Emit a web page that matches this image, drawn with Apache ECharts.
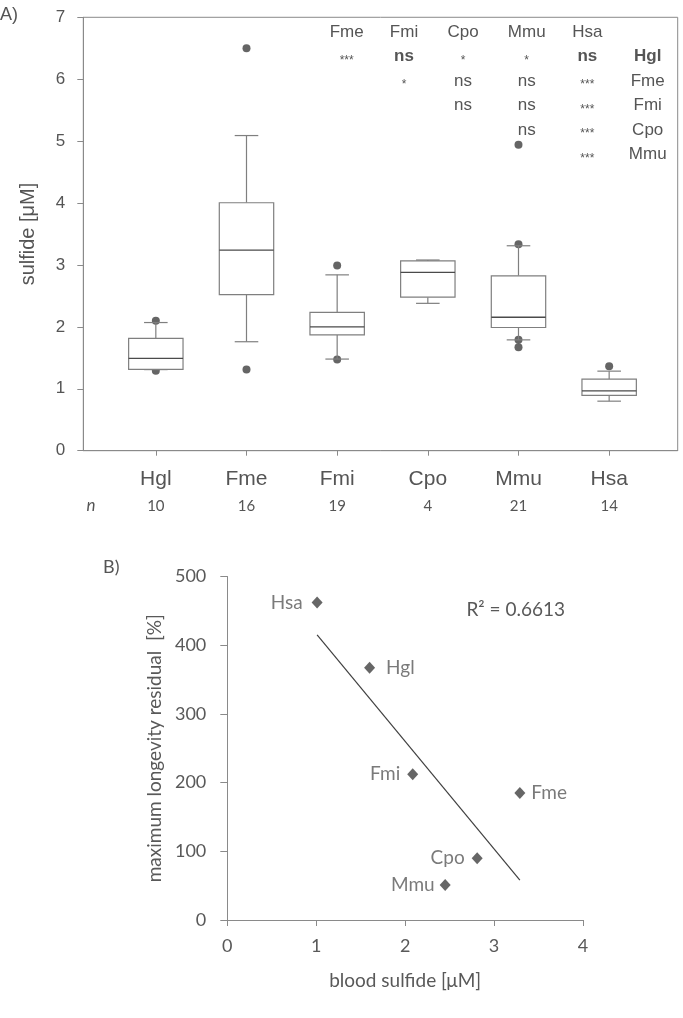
<!DOCTYPE html>
<html><head><meta charset="utf-8">
<script src="https://cdn.jsdelivr.net/npm/echarts@6/dist/echarts.min.js"></script>
<style>html,body{margin:0;padding:0;background:#fff}#c{width:683px;height:1018px}</style>
</head><body><div id="c"></div>
<script>
// ---------- Panel A data ----------
const categories = ['Hgl', 'Fme', 'Fmi', 'Cpo', 'Mmu', 'Hsa'];
const nValues = [10, 16, 19, 4, 21, 14];
const whiskerLow = [1.31, 1.76, 1.48, 2.38, 1.79, 0.80];
const quartile1 = [1.315, 2.52, 1.87, 2.48, 1.99, 0.895];
const medians = [1.49, 3.24, 2.00, 2.88, 2.155, 0.965];
const quartile3 = [1.815, 4.005, 2.235, 3.065, 2.825, 1.155];
const whiskerHigh = [2.07, 5.09, 2.84, 3.08, 3.31, 1.285];
const outlierGroup = ['Hgl', 'Hgl', 'Fme', 'Fme', 'Fmi', 'Fmi', 'Mmu', 'Mmu', 'Mmu', 'Mmu', 'Hsa'];
const outlierValues = [2.10, 1.29, 6.50, 1.31, 2.99, 1.475, 4.94, 3.335, 1.79, 1.67, 1.363];
const yTicksA = [0, 1, 2, 3, 4, 5, 6, 7];

// significance table
const sigColumns = ['Fme', 'Fmi', 'Cpo', 'Mmu', 'Hsa'];
const sigRowLabels = ['Hgl', 'Fme', 'Fmi', 'Cpo', 'Mmu'];
const sigMatrix = [
  ['***', 'ns', '*', '*', 'ns'],
  ['', '*', 'ns', 'ns', '***'],
  ['', '', 'ns', 'ns', '***'],
  ['', '', '', 'ns', '***'],
  ['', '', '', '', '***']
];

// ---------- Panel B data ----------
const speciesB = ['Hsa', 'Hgl', 'Fmi', 'Fme', 'Cpo', 'Mmu'];
const bloodSulfide = [1.01, 1.60, 2.085, 3.29, 2.81, 2.45];
const longevityResidual = [462, 367, 212, 185, 90, 51];
const trendSulfide = [1.01, 3.29];
const trendResidual = [415, 58];
const r2Label = 'R² = 0.6613';
const xTicksB = [0, 1, 2, 3, 4];
const yTicksB = [0, 100, 200, 300, 400, 500];

// ---------- layout / style ----------
const FA = 'Liberation Sans, Arial, sans-serif';
const FB = 'Lato, Calibri, sans-serif';
const axisGray = '#8a8a8a';
const textGray = '#555555';
const darkGray = '#404040';

const chart = echarts.init(document.getElementById('c'), null, {renderer: 'canvas'});

const catPos = categories.map((c, i) => i + 1);

// table graphic
const colX = [346.7, 404, 463, 526.7, 587.3];
const labelX = 647.7;
const headerY = 32.3;
const rowY = [56.7, 81, 105.7, 130, 154.3];
const graphics = [];
function txt(text, x, y, opts) {
  graphics.push({
    type: 'text', x: x, y: y, silent: true,
    style: Object.assign({
      text: text, fill: textGray, fontFamily: FA, fontSize: 17,
      align: 'center', verticalAlign: 'middle', textAlign: 'center', textVerticalAlign: 'middle'
    }, opts || {})
  });
}
sigColumns.forEach((c, j) => txt(c, colX[j], headerY));
sigRowLabels.forEach((r, i) => {
  txt(r, labelX, rowY[i], i === 0 ? {fontWeight: 'bold'} : {});
  sigMatrix[i].forEach((s, j) => {
    if (!s) return;
    if (s.indexOf('*') >= 0) {
      txt(s, colX[j], rowY[i] + 4, {fontSize: 12});
    } else {
      txt(s, colX[j], rowY[i], i === 0 ? {fontWeight: 'bold'} : {});
    }
  });
});
txt('A)', 0, 15.5, {align: 'left', textAlign: 'left', fontSize: 18});
txt('n', 91, 506, {fontStyle: 'italic', fontSize: 17, fontFamily: FB});
txt('B)', 103, 567, {align: 'left', textAlign: 'left', fontSize: 18, fontFamily: FB});
txt(r2Label, 515.7, 610, {fontSize: 19, fontFamily: FB, fill: '#595959'});

const labelCfg = {
  Hsa: {position: 'left', distance: 9},
  Hgl: {position: 'right', distance: 11},
  Fmi: {position: 'left', distance: 7},
  Fme: {position: 'right', distance: 6},
  Cpo: {position: 'left', distance: 7},
  Mmu: {position: 'left', distance: 5}
};

const option = {
  animation: false,
  backgroundColor: '#fff',
  graphic: graphics,
  grid: [
    {left: 83.3, top: 17.3, width: 594.4, height: 433.4, show: true, borderColor: axisGray, borderWidth: 1, containLabel: false},
    {left: 227.3, top: 576.5, width: 355.7, height: 343.5, containLabel: false}
  ],
  xAxis: [
    {
      gridIndex: 0, type: 'value', min: 0.2, max: 6.756,
      splitLine: {show: false},
      axisLine: {show: true, lineStyle: {color: axisGray, width: 1}},
      axisTick: {show: true, length: 5, customValues: catPos, lineStyle: {color: axisGray}},
      axisLabel: {
        customValues: catPos, margin: 16,
        formatter: v => '{c|' + categories[Math.round(v) - 1] + '}\n{n|' + nValues[Math.round(v) - 1] + '}',
        rich: {
          c: {fontFamily: FA, fontSize: 21, color: textGray, lineHeight: 26},
          n: {fontFamily: FB, fontSize: 15, color: textGray, lineHeight: 26}
        }
      }
    },
    {
      gridIndex: 1, type: 'value', min: 0, max: 4, interval: 1,
      splitLine: {show: false},
      axisLine: {show: true, onZero: false, lineStyle: {color: axisGray}},
      axisTick: {show: true, length: 6, lineStyle: {color: axisGray}},
      axisLabel: {fontFamily: FB, fontSize: 18, color: '#595959', margin: 17},
      name: 'blood sulfide [μM]', nameLocation: 'middle', nameGap: 51,
      nameTextStyle: {fontFamily: FB, fontSize: 19, color: '#595959'}
    }
  ],
  yAxis: [
    {
      gridIndex: 0, type: 'value', min: 0, max: 7, interval: 1,
      splitLine: {show: false},
      axisLine: {show: true, lineStyle: {color: axisGray}},
      axisTick: {show: true, length: 6, lineStyle: {color: axisGray}},
      axisLabel: {fontFamily: FA, fontSize: 17, color: textGray, margin: 18},
      name: 'sulfide [μM]', nameLocation: 'middle', nameGap: 45,
      nameTextStyle: {fontFamily: FA, fontSize: 20, color: textGray}
    },
    {
      gridIndex: 1, type: 'value', min: 0, max: 500, interval: 100,
      splitLine: {show: false},
      axisLine: {show: true, onZero: false, lineStyle: {color: axisGray}},
      axisTick: {show: true, length: 7, lineStyle: {color: axisGray}},
      axisLabel: {fontFamily: FB, fontSize: 18, color: '#595959', margin: 21},
      name: 'maximum longevity residual  [%]', nameLocation: 'middle', nameGap: 60,
      nameTextStyle: {fontFamily: FB, fontSize: 19, color: '#595959'}
    }
  ],
  series: [
    {
      type: 'scatter', xAxisIndex: 0, yAxisIndex: 0, z: 1,
      symbol: 'circle', symbolSize: 8,
      itemStyle: {color: '#3f3f3f'},
      data: outlierGroup.map((g, i) => [categories.indexOf(g) + 1, outlierValues[i]])
    },
    {
      type: 'custom', xAxisIndex: 0, yAxisIndex: 0, z: 2,
      data: categories.map((c, i) => [i + 1, whiskerLow[i], quartile1[i], medians[i], quartile3[i], whiskerHigh[i]]),
      encode: {x: 0, y: [1, 2, 3, 4, 5]},
      renderItem: function (params, api) {
        const x = api.value(0);
        const lo = api.coord([x, api.value(1)]);
        const q1 = api.coord([x, api.value(2)]);
        const md = api.coord([x, api.value(3)]);
        const q3 = api.coord([x, api.value(4)]);
        const hi = api.coord([x, api.value(5)]);
        const bw = api.size([0.6, 0])[0];
        const cw = api.size([0.26, 0])[0];
        const cx = lo[0];
        const ls = {stroke: '#7f7f7f', lineWidth: 1.2, fill: null};
        return {
          type: 'group', children: [
            {type: 'line', shape: {x1: cx, y1: q3[1], x2: cx, y2: hi[1]}, style: ls},
            {type: 'line', shape: {x1: cx - cw / 2, y1: hi[1], x2: cx + cw / 2, y2: hi[1]}, style: ls},
            {type: 'line', shape: {x1: cx, y1: q1[1], x2: cx, y2: lo[1]}, style: ls},
            {type: 'line', shape: {x1: cx - cw / 2, y1: lo[1], x2: cx + cw / 2, y2: lo[1]}, style: ls},
            {type: 'rect', shape: {x: cx - bw / 2, y: q3[1], width: bw, height: q1[1] - q3[1]}, style: {fill: '#ffffff', stroke: '#7f7f7f', lineWidth: 1.2}},
            {type: 'line', shape: {x1: cx - bw / 2, y1: md[1], x2: cx + bw / 2, y2: md[1]}, style: {stroke: '#4a4a4a', lineWidth: 1.3}}
          ]
        };
      }
    },
    {
      type: 'line', xAxisIndex: 1, yAxisIndex: 1, z: 1,
      symbol: 'none', lineStyle: {color: darkGray, width: 1.2},
      data: trendSulfide.map((x, i) => [x, trendResidual[i]])
    },
    {
      type: 'scatter', xAxisIndex: 1, yAxisIndex: 1, z: 3,
      symbol: 'diamond', symbolSize: [11, 12],
      itemStyle: {color: darkGray},
      data: speciesB.map((s, i) => ({
        value: [bloodSulfide[i], longevityResidual[i]],
        name: s,
        label: Object.assign({show: true, formatter: s, fontFamily: FB, fontSize: 19, color: '#595959'}, labelCfg[s])
      }))
    }
  ]
};
chart.setOption(option);
</script>
</body></html>
